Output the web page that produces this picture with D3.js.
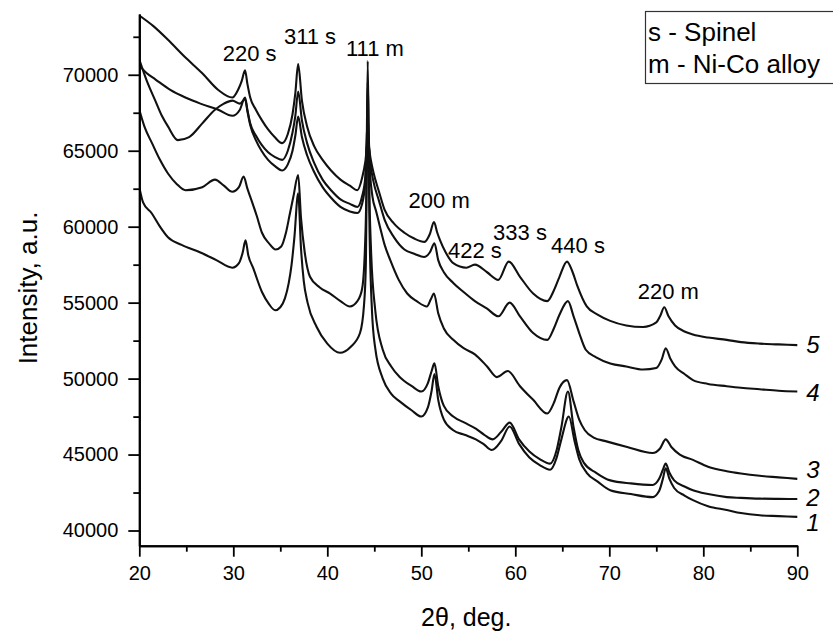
<!DOCTYPE html>
<html>
<head>
<meta charset="utf-8">
<script src="https://cdn.jsdelivr.net/npm/d3@7"></script>
<style>
  body { margin: 0; background: #fff; }
  text { font-family: "Liberation Sans", Arial, sans-serif; fill: #000; }
</style>
</head>
<body>
<div id="wrapper"></div>
<script>

// [2theta, intensity]
const curve1 = [[20,62600],[20.4,61600],[21.3,60900],[22.2,60000],[23.05,59300],[24.5,58800],[26.5,58300],[28.2,57800],[29.9,57300],[30.6,57600],[31.0,58300],[31.3,59100],[31.6,58100],[32.1,57300],[33.05,55700],[33.8,54900],[34.45,54500],[35.0,54700],[35.5,55300],[35.9,56300],[36.2,57500],[36.5,59300],[36.9,62200],[37.2,58600],[37.5,56400],[37.9,55000],[38.87,53400],[40.0,52300],[41.35,51700],[42.5,52100],[43.48,53000],[43.9,54800],[44.1,57500],[44.3,69500],[44.5,59500],[44.75,54500],[45.1,52000],[45.9,50000],[46.8,49000],[47.7,48500],[49.0,47900],[50.0,47500],[50.7,48100],[51.1,49200],[51.4,50300],[51.8,48600],[52.4,47300],[53.4,46600],[54.6,46300],[55.8,46000],[56.6,45700],[57.5,45300],[58.5,45900],[59.4,46850],[60.4,45700],[61.5,44800],[62.6,44300],[63.7,44000],[64.4,44800],[64.9,46000],[65.7,47500],[66.3,45900],[66.8,44700],[67.6,43800],[68.8,43200],[70.1,42650],[72.3,42400],[74.6,42200],[75.3,42600],[75.7,43400],[76.0,44100],[76.4,43400],[76.9,42800],[78.0,42300],[78.9,42000],[80.5,41600],[82.5,41350],[84.0,41150],[86.0,41000],[88.0,40950],[90,40900]];

const curve2 = [[20,67700],[20.6,66500],[21.35,65500],[22.2,64400],[23.05,63500],[24.0,62800],[24.9,62400],[26.7,62600],[28.05,63100],[29.0,62700],[29.9,62300],[30.6,62600],[31.1,63300],[31.5,62500],[31.9,61800],[32.5,60700],[33.05,59600],[33.8,58900],[34.5,58500],[35.1,58700],[35.6,59600],[36.0,60800],[36.4,62000],[36.9,63400],[37.2,60600],[37.6,58300],[38.16,56700],[39.2,56000],[40.3,55600],[41.4,55100],[42.4,54750],[43.2,55100],[43.7,55900],[44.0,58500],[44.15,62000],[44.3,70900],[44.45,63000],[44.65,58500],[45.1,54500],[45.9,51900],[46.8,50800],[47.7,50100],[49.0,49500],[50.0,49150],[50.7,49700],[51.1,50500],[51.4,51000],[51.8,49500],[52.4,48200],[53.4,47500],[54.6,47100],[55.8,46700],[56.7,46300],[57.6,46000],[58.5,46500],[59.4,47100],[60.4,46000],[61.5,45200],[62.6,44700],[63.7,44400],[64.4,45300],[64.9,46800],[65.6,49150],[66.2,46800],[66.7,45300],[67.3,44450],[68.6,43800],[70.1,43300],[72.3,43100],[74.6,43000],[75.3,43400],[75.7,44000],[76.0,44400],[76.4,43800],[76.9,43300],[78.0,42900],[78.9,42650],[80.5,42400],[82.5,42200],[84.0,42150],[86.0,42100],[88.0,42080],[90,42070]];

const curve3 = [[20,71000],[20.8,69600],[21.7,68300],[22.4,67300],[23.05,66600],[24.1,65700],[25.3,65900],[26.7,66800],[28.05,67700],[29.0,68100],[29.9,68300],[30.7,68100],[31.25,68400],[31.5,67600],[31.8,66700],[32.4,65700],[33.0,65000],[33.7,64400],[34.4,64000],[35.2,63700],[35.8,64100],[36.3,65000],[36.6,66000],[36.9,67250],[37.3,65900],[37.85,64700],[38.6,63600],[39.5,62600],[40.4,61900],[41.4,61300],[42.4,61000],[43.2,60900],[43.7,61500],[44.05,63000],[44.3,67300],[44.55,63500],[44.8,62000],[45.2,61000],[45.6,60000],[46.1,58800],[46.7,57800],[47.6,56500],[48.5,55600],[49.5,55100],[50.6,54750],[51.0,55200],[51.35,55600],[51.8,54300],[52.4,53300],[53.4,52550],[54.5,52000],[55.7,51600],[57.0,50800],[58.05,50100],[59.2,50500],[60.5,49500],[61.9,48600],[63.4,47700],[64.1,48400],[64.7,49400],[65.5,49900],[66.2,48500],[66.8,47300],[67.4,46600],[68.4,46100],[69.5,45900],[71.9,45500],[74.6,45100],[75.4,45400],[76.0,46000],[76.6,45500],[77.5,45000],[78.9,44650],[80.5,44200],[82.5,43900],[84.0,43750],[86.0,43600],[88.0,43500],[90,43400]];

const curve4 = [[20,70600],[20.8,70100],[21.7,69700],[23.3,69000],[24.9,68500],[26.5,68100],[28.4,67700],[29.9,67300],[30.7,67700],[31.25,68500],[31.5,67700],[31.8,66800],[32.4,66000],[33.0,65400],[33.7,64900],[34.4,64600],[35.2,64400],[35.8,65000],[36.3,66200],[36.6,67300],[36.9,68900],[37.3,67000],[37.85,65500],[38.6,64200],[39.5,63100],[40.4,62400],[41.4,61800],[42.4,61500],[43.2,61300],[43.7,62000],[44.05,63300],[44.3,66200],[44.55,64300],[44.9,63000],[45.5,61700],[46.1,60450],[47.1,59300],[48.2,58500],[49.3,58200],[50.3,58000],[50.9,58300],[51.4,58900],[51.8,57800],[52.4,57000],[53.4,56300],[54.5,55700],[55.7,55100],[57.0,54600],[58.2,54100],[59.4,55000],[60.5,54100],[61.9,53000],[63.4,52550],[64.1,53300],[64.7,54200],[65.6,55100],[66.2,54100],[66.8,53000],[67.5,51900],[68.6,51400],[70.1,51000],[71.8,50800],[73.6,50600],[75.0,50700],[75.6,51300],[76.0,52000],[76.5,51300],[77.0,50800],[78.0,50300],[78.9,49900],[80.5,49650],[82.5,49500],[84.0,49400],[86.0,49300],[88.0,49200],[90,49150]];

const curve5 = [[20,73900],[21.5,73200],[23.05,72300],[24.8,71200],[26.7,70100],[28.4,69000],[29.9,68500],[30.5,69000],[30.9,69600],[31.25,70300],[31.5,69400],[31.8,68500],[32.4,67700],[33.05,67000],[33.7,66400],[34.4,65900],[35.2,65500],[35.8,66100],[36.3,67400],[36.6,68800],[36.9,70700],[37.3,68300],[37.85,66600],[38.6,65300],[39.5,64400],[40.4,63700],[41.4,63100],[42.4,62700],[43.2,62400],[43.7,63200],[44.05,64300],[44.3,65600],[44.6,64500],[44.9,63600],[45.5,62300],[46.1,61100],[47.1,60200],[48.2,59600],[49.3,59200],[50.35,59000],[50.9,59500],[51.35,60300],[51.7,59600],[52.0,59100],[52.6,58300],[53.4,57600],[54.8,57300],[55.7,57500],[57.0,57000],[58.2,56500],[59.3,57700],[60.5,56700],[61.9,55600],[63.4,55100],[64.1,55800],[64.7,56700],[65.5,57700],[66.1,57000],[66.6,56100],[67.6,54750],[68.8,54200],[70.1,53800],[71.8,53500],[73.6,53400],[75.0,53700],[75.4,54100],[75.85,54700],[76.3,54100],[77.0,53500],[78.0,53100],[78.9,52900],[80.5,52700],[82.5,52550],[84.0,52400],[86.0,52300],[88.0,52250],[90,52200]];

const series = [curve1, curve2, curve3, curve4, curve5];
const seriesNames = ['1', '2', '3', '4', '5'];
const seriesLabelY = [40000, 41620, 43440, 48510, 51680];

const peakText = ['220 s', '311 s', '111 m', '200 m', '422 s', '333 s', '440 s', '220 m'];
const peakX = [31.74, 38.16, 45.07, 51.9, 55.71, 60.5, 66.67, 76.28];
const peakY = [70920, 72020, 71250, 61220, 57930, 59140, 58260, 55250];

const legendLines = ['s - Spinel', 'm - Ni-Co alloy'];

const xMajor = [20, 30, 40, 50, 60, 70, 80, 90];
const xMinor = [25, 35, 45, 55, 65, 75, 85];
const yMajor = [40000, 45000, 50000, 55000, 60000, 65000, 70000];
const yMinor = [42500, 47500, 52500, 57500, 62500, 67500, 72500];

const dimensions = {
    width: 833,
    height: 632,
    margin: { top: 14, right: 35.7, bottom: 86.3, left: 139.3 }
};
dimensions.boundedWidth = dimensions.width - dimensions.margin.left - dimensions.margin.right;
dimensions.boundedHeight = dimensions.height - dimensions.margin.top - dimensions.margin.bottom;

const svg = d3.select('#wrapper')
    .append('svg')
    .attr('width', dimensions.width)
    .attr('height', dimensions.height);

const bounds = svg.append('g')
    .attr('transform', `translate(${dimensions.margin.left},${dimensions.margin.top})`);

const xScale = d3.scaleLinear()
    .domain([20, 90])
    .range([0, dimensions.boundedWidth]);

const yScale = d3.scaleLinear()
    .domain([39000, 74000])
    .range([dimensions.boundedHeight, 0]);

bounds.append('clipPath').attr('id', 'clip')
    .append('rect')
    .attr('width', dimensions.boundedWidth + 1)
    .attr('height', dimensions.boundedHeight);

const line = d3.line()
    .x(d => xScale(d[0]))
    .y(d => yScale(d[1]))
    .curve(d3.curveMonotoneX);

bounds.append('g')
    .attr('clip-path', 'url(#clip)')
    .selectAll('path')
    .data(series)
    .join('path')
    .attr('d', line)
    .attr('fill', 'none')
    .attr('stroke', '#111')
    .attr('stroke-width', 2.1)
    .attr('stroke-linejoin', 'round');

// axes
const styleAxis = g => {
    g.select('.domain').attr('stroke-width', 2);
    g.selectAll('.tick line').attr('stroke-width', 1.8);
};

bounds.append('g')
    .attr('transform', `translate(0,${dimensions.boundedHeight})`)
    .call(d3.axisBottom(xScale).tickValues(xMinor).tickSize(6).tickSizeOuter(0).tickFormat(''))
    .call(styleAxis);

const xAxis = bounds.append('g')
    .attr('transform', `translate(0,${dimensions.boundedHeight})`)
    .call(d3.axisBottom(xScale).tickValues(xMajor).tickSize(11).tickSizeOuter(0).tickPadding(9))
    .call(styleAxis);
xAxis.selectAll('text').style('font-size', '20px').attr('fill', '#000');

bounds.append('g')
    .call(d3.axisLeft(yScale).tickValues(yMinor).tickSize(6).tickSizeOuter(0).tickFormat(''))
    .call(styleAxis);

const yAxis = bounds.append('g')
    .call(d3.axisLeft(yScale).tickValues(yMajor).tickSize(11).tickSizeOuter(0).tickPadding(10).tickFormat(d3.format('d')))
    .call(styleAxis);
yAxis.selectAll('text').style('font-size', '20px').attr('fill', '#000');

// axis titles
svg.append('text')
    .attr('x', dimensions.margin.left + dimensions.boundedWidth / 2 - 2)
    .attr('y', 626)
    .attr('text-anchor', 'middle')
    .style('font-size', '25px')
    .text('2\u03B8, deg.');

svg.append('text')
    .attr('transform', 'translate(37,288) rotate(-90)')
    .attr('text-anchor', 'middle')
    .style('font-size', '26px')
    .text('Intensity, a.u.');

// peak labels
bounds.selectAll('.peak')
    .data(peakText)
    .join('text')
    .attr('class', 'peak')
    .attr('x', (d, i) => xScale(peakX[i]))
    .attr('y', (d, i) => yScale(peakY[i]))
    .attr('text-anchor', 'middle')
    .style('font-size', '22px')
    .text(d => d);

// curve numbers
bounds.selectAll('.num')
    .data(seriesNames)
    .join('text')
    .attr('class', 'num')
    .attr('x', dimensions.boundedWidth + 9)
    .attr('y', (d, i) => yScale(seriesLabelY[i]))
    .style('font-size', '24px')
    .style('font-style', 'italic')
    .text(d => d);

// legend
const legend = svg.append('g');
legend.append('rect')
    .attr('x', 645.5)
    .attr('y', 11.5)
    .attr('width', 200)
    .attr('height', 72)
    .attr('fill', '#fff')
    .attr('stroke', '#333')
    .attr('stroke-width', 1.2);
legend.selectAll('text')
    .data(legendLines)
    .join('text')
    .attr('x', 648)
    .attr('y', (d, i) => 40.7 + i * 32)
    .style('font-size', '26px')
    .text(d => d);

</script>
</body>
</html>
